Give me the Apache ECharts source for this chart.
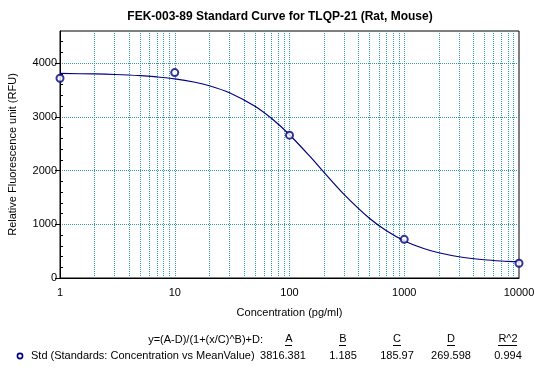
<!DOCTYPE html>
<html>
<head>
<meta charset="utf-8">
<script src="https://cdn.jsdelivr.net/npm/echarts@6/dist/echarts.min.js"></script>
<style>html,body{margin:0;padding:0;background:#fff;}#chart{width:552px;height:389px;}</style>
</head>
<body>
<div id="chart"></div>
<script>
// Standard points
const concentrations = [1, 10, 100, 1000, 10000];
const meanValues = [3720, 3825, 2660, 720, 275];
// Fitted curve
const curveX = [1, 2, 3, 5, 7, 10, 15, 20, 30, 50, 70, 100, 150, 200, 300, 500, 700, 1000, 1500, 2000, 3000, 5000, 7000, 10000];
const curveY = [3809, 3800, 3790, 3768, 3744, 3709, 3645, 3581, 3450, 3199, 2969, 2667, 2268, 1967, 1554, 1108, 880, 695, 545, 470, 396, 340, 317, 301];
// Axis ticks and grid lines
const xTickLabels = [1, 10, 100, 1000, 10000];
const xGridValues = [2, 3, 4, 5, 6, 7, 8, 9, 10, 20, 30, 40, 50, 60, 70, 80, 90, 100, 200, 300, 400, 500, 600, 700, 800, 900, 1000, 2000, 3000, 4000, 5000, 6000, 7000, 8000, 9000];
const yTickLabels = [0, 1000, 2000, 3000, 4000];
const yMinorTicks = [200, 400, 600, 800, 1200, 1400, 1600, 1800, 2200, 2400, 2600, 2800, 3200, 3400, 3600, 3800, 4200, 4400];
// Fit table
const fitEquation = 'y=(A-D)/(1+(x/C)^B)+D:';
const fitHeaders = ['A', 'B', 'C', 'D', 'R^2'];
const fitValues = ['3816.381', '1.185', '185.97', '269.598', '0.994'];
const legendLabel = 'Std (Standards: Concentration vs MeanValue)';

const FONT = '"Liberation Sans", Arial, sans-serif';
const NAVY = '#000080';
const GRIDC = '#2f9aa6';

const chart = echarts.init(document.getElementById('chart'), null, {renderer: 'canvas'});

const ctx = document.createElement('canvas').getContext('2d');
ctx.font = '11px ' + FONT;

const headerX = [289, 343, 397, 451, 508];
const valueX = [283, 343, 397, 451, 508];
const graphics = [
  {type: 'text', x: 280, y: 17, style: {text: 'FEK-003-89 Standard Curve for TLQP-21 (Rat, Mouse)', font: 'bold 12px ' + FONT, fill: '#000', align: 'center', verticalAlign: 'middle'}},
  {type: 'text', x: 263, y: 340, style: {text: fitEquation, font: '11px ' + FONT, fill: '#000', align: 'right', verticalAlign: 'middle'}},
  {type: 'circle', shape: {cx: 20, cy: 356, r: 2.6}, style: {fill: '#fff', stroke: NAVY, lineWidth: 1.6}},
  {type: 'text', x: 31, y: 356, style: {text: legendLabel, font: '11px ' + FONT, fill: '#000', align: 'left', verticalAlign: 'middle'}}
];
fitHeaders.forEach((h, i) => {
  const w = ctx.measureText(h).width;
  graphics.push({type: 'text', x: headerX[i], y: 339, style: {text: h, font: '11px ' + FONT, fill: '#000', align: 'center', verticalAlign: 'middle'}});
  graphics.push({type: 'rect', shape: {x: Math.round(headerX[i] - w / 2), y: 345, width: Math.round(w), height: 1}, style: {fill: '#000'}});
});
fitValues.forEach((v, i) => {
  graphics.push({type: 'text', x: valueX[i], y: 356, style: {text: v, font: '11px ' + FONT, fill: '#000', align: 'center', verticalAlign: 'middle'}});
});

const plain = v => String(v);

const option = {
  backgroundColor: '#fff',
  animation: false,
  grid: {left: 60, right: 33, top: 31, bottom: 111, show: true, borderColor: '#000', borderWidth: 1, backgroundColor: 'transparent', outerBoundsMode: 'none', containLabel: false},
  xAxis: {
    type: 'log', logBase: 10, min: 1, max: 10000,
    name: 'Concentration (pg/ml)', nameLocation: 'middle', nameGap: 29,
    nameTextStyle: {fontFamily: FONT, fontSize: 11, color: '#000'},
    axisLine: {lineStyle: {color: '#000', width: 1}},
    axisTick: {show: false, customValues: xGridValues},
    axisLabel: {fontFamily: FONT, fontSize: 11, color: '#000', margin: 9, customValues: xTickLabels, formatter: plain},
    splitLine: {show: true, lineStyle: {color: GRIDC, width: 1, type: [1, 1]}},
    minorSplitLine: {show: false}
  },
  yAxis: [{
    type: 'value', min: 0, max: 4600, interval: 1000,
    name: 'Relative Fluorescence unit (RFU)', nameLocation: 'middle', nameGap: 42, nameRotate: 90,
    nameTextStyle: {fontFamily: FONT, fontSize: 11, color: '#000'},
    axisLine: {show: true, lineStyle: {color: '#000', width: 1}},
    axisTick: {show: true, length: 5, lineStyle: {color: '#000'}, customValues: yTickLabels},
    axisLabel: {fontFamily: FONT, fontSize: 11, color: '#000', margin: 3, customValues: yTickLabels, formatter: plain},
    splitLine: {show: true, lineStyle: {color: GRIDC, width: 1, type: [1, 1]}}
  }, {
    type: 'value', min: 0, max: 4600, position: 'left', offset: 0,
    axisLine: {show: false},
    axisTick: {show: true, inside: true, length: 3, lineStyle: {color: '#000'}, customValues: yMinorTicks},
    axisLabel: {show: false, customValues: yMinorTicks},
    splitLine: {show: false}
  }],
  graphic: graphics,
  series: [{
    type: 'line', z: 3, smooth: 0.3, showSymbol: false, silent: true,
    data: curveX.map((x, i) => [x, curveY[i]]),
    lineStyle: {color: NAVY, width: 1.2}
  }, {
    type: 'scatter', z: 4, symbol: 'emptyCircle', symbolSize: 7, silent: true,
    data: concentrations.map((x, i) => [x, meanValues[i]]),
    itemStyle: {color: NAVY, borderColor: NAVY, borderWidth: 1.6}
  }]
};
chart.setOption(option);
</script>
</body>
</html>
